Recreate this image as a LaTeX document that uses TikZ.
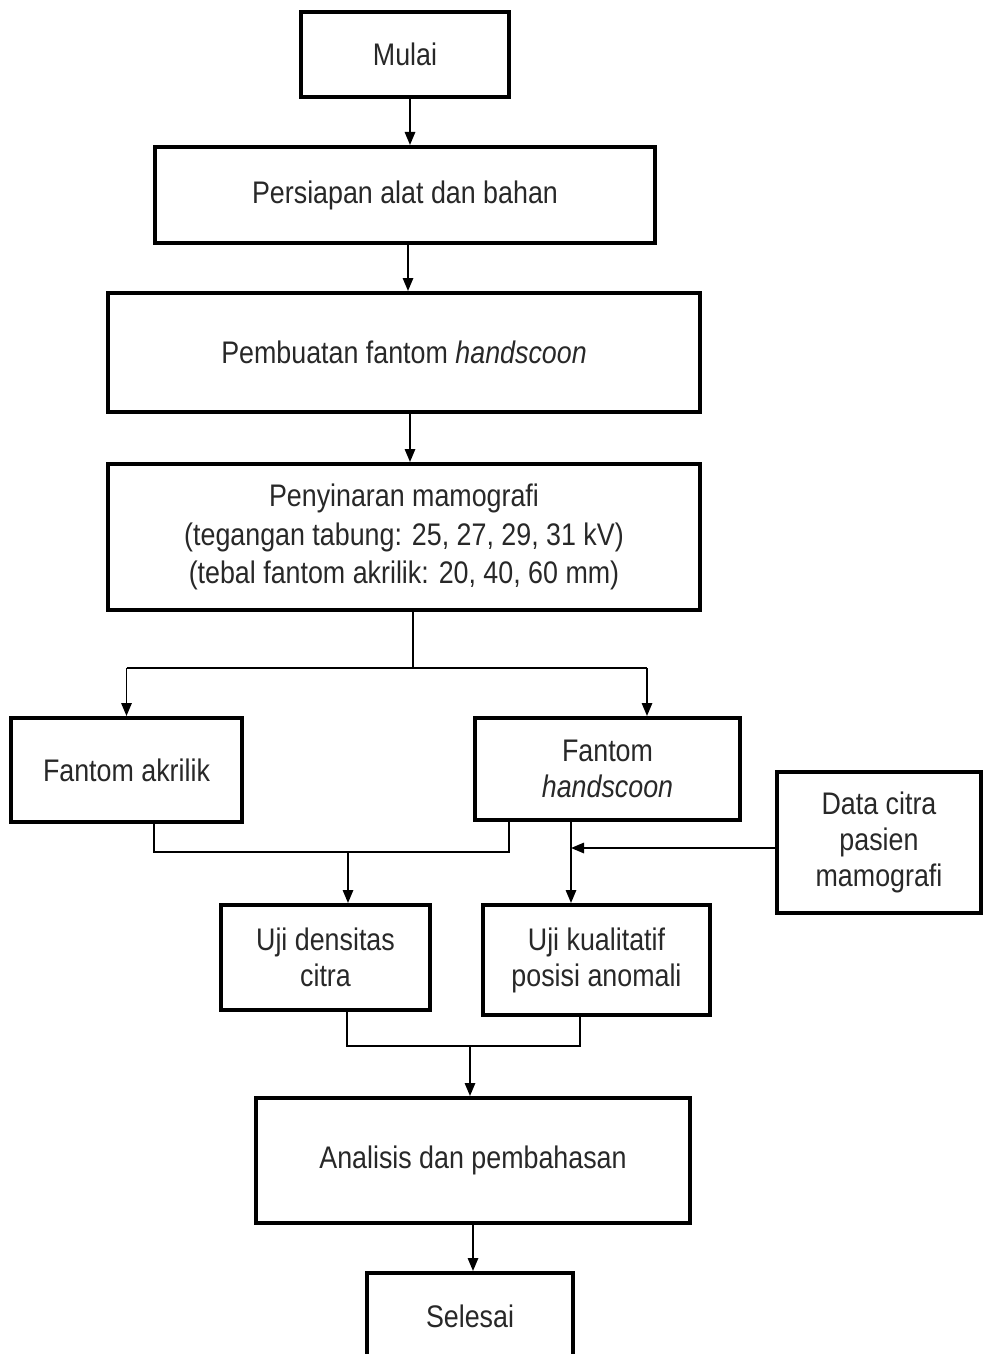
\documentclass[tikz,border=0pt]{standalone}
\usepackage{fontspec}
\setmainfont{Liberation Sans}[FakeStretch=0.86]
\usetikzlibrary{arrows.meta}
\definecolor{txt}{RGB}{40,40,40}
\begin{document}
\begin{tikzpicture}[x=0.5pt,y=-0.5pt,
  box/.style={draw=black, line width=2pt, fill=white, align=center, inner sep=0pt,
    text=txt, font=\fontsize{15.6}{18}\selectfont},
  conn/.style={line width=0.9pt, draw=black},
  arr/.style={conn, -{Triangle[length=6.5pt,width=5.2pt]}}]
\useasboundingbox (0,0) rectangle (983,1354);
\clip (0,0) rectangle (983,1354);

\node[box, minimum width=104pt, minimum height=42.5pt] (mulai) at (405,54.5) {Mulai};
\node[box, minimum width=250pt, minimum height=48pt] (persiapan) at (405,195) {Persiapan alat dan bahan};
\node[box, minimum width=296pt, minimum height=59.5pt] (pembuatan) at (404,352.5) {Pembuatan fantom \textit{handscoon}};
\node[box, minimum width=296pt, minimum height=73pt, font=\fontsize{15.6}{19.2}\selectfont] (penyinaran) at (404,537)
  {Penyinaran mamografi\\(tegangan tabung: 25, 27, 29, 31 kV)\\(tebal fantom akrilik: 20, 40, 60 mm)};
\node[box, minimum width=115.5pt, minimum height=52pt] (fa) at (126.5,770) {Fantom akrilik};
\node[box, minimum width=132.5pt, minimum height=51pt] (fh) at (607.5,769) {Fantom\\\textit{handscoon}};
\node[box, minimum width=102pt, minimum height=70.5pt] (dc) at (879,842.5) {Data citra\\pasien\\mamografi};
\node[box, minimum width=104.5pt, minimum height=52.5pt] (ud) at (325.5,957.5) {Uji densitas\\citra};
\node[box, minimum width=113.5pt, minimum height=55pt] (uk) at (596.5,960) {Uji kualitatif\\posisi anomali};
\node[box, minimum width=217pt, minimum height=62.5pt] (an) at (473,1160.5) {Analisis dan pembahasan};
\node[box, minimum width=103pt, minimum height=43pt] (se) at (470,1316) {Selesai};

\coordinate (a1) at (410,0);
\coordinate (a2) at (408,0);
\coordinate (a3) at (410,0);
\draw[arr] (mulai.south -| a1) -- (persiapan.north -| a1);
\draw[arr] (persiapan.south -| a2) -- (pembuatan.north -| a2);
\draw[arr] (pembuatan.south -| a3) -- (penyinaran.north -| a3);

\coordinate (sp) at (413,668);
\coordinate (spL) at (126.5,668);
\coordinate (spR) at (647,668);
\draw[conn] (penyinaran.south -| sp) -- (sp);
\draw[conn] (spL) -- (spR);
\draw[arr] (spL) -- (fa.north);
\draw[arr] (spR) -- (spR |- fh.north);

\coordinate (m1L) at (154,852);
\coordinate (m1R) at (509,852);
\coordinate (m1) at (348,852);
\draw[conn] (fa.south -| m1L) -- (m1L) -- (m1R) -- (fh.south -| m1R);
\draw[arr] (m1) -- (m1 |- ud.north);

\coordinate (hk) at (571,848);
\draw[arr] (fh.south -| hk) -- (uk.north -| hk);
\draw[arr] (dc.west |- hk) -- (hk);

\coordinate (m2L) at (347,1046);
\coordinate (m2R) at (580,1046);
\coordinate (m2) at (470,1046);
\draw[conn] (ud.south -| m2L) -- (m2L) -- (m2R) -- (uk.south -| m2R);
\draw[arr] (m2) -- (m2 |- an.north);

\draw[arr] (an.south) -- (an.south |- se.north);
\end{tikzpicture}
\end{document}
